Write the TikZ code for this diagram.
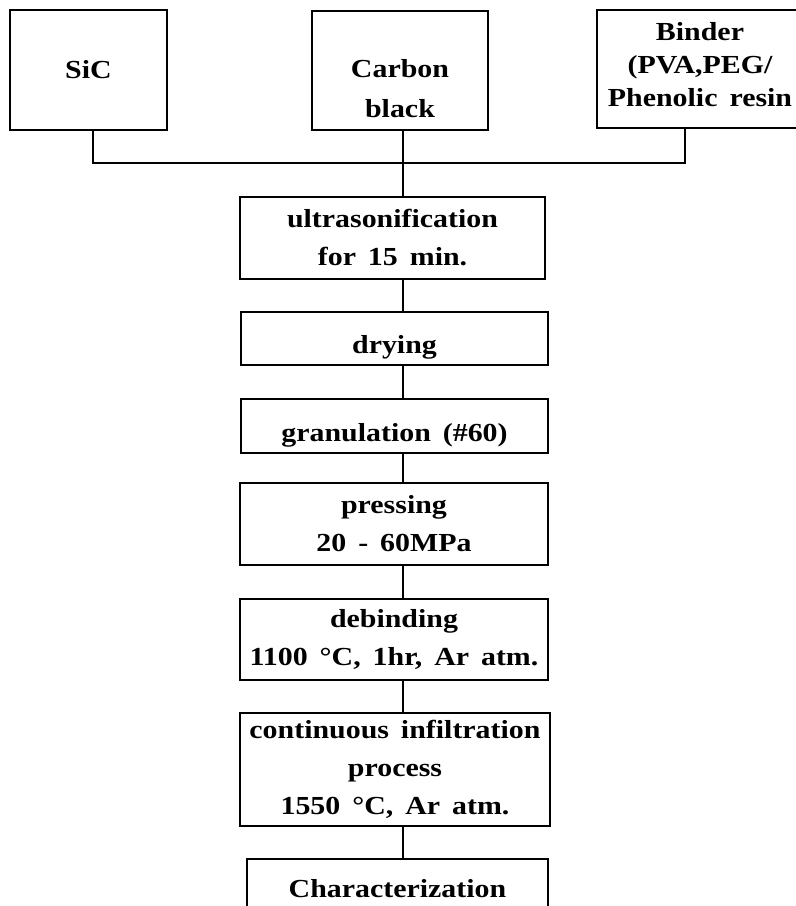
\documentclass[tikz,border=0pt]{standalone}
\usepackage{fontspec}
\setmainfont{Liberation Serif}[FakeStretch=1.15, WordSpace=1.6]
\newcommand\mlines[1]{\begin{tabular}{@{}c@{}}#1\end{tabular}}
\newcommand\shiftby[2]{\raisebox{#1}[\height][\depth]{#2}}
\begin{document}
\begin{tikzpicture}[x=1pt,y=-1pt,
  box/.style={draw=black, line width=2.2pt, inner sep=0pt, align=center,
    font=\fontsize{26}{38}\selectfont\bfseries},
  conn/.style={draw=black, line width=2.2pt}]
\clip (0,0) rectangle (796,906);
\fill[white] (0,0) rectangle (796,906);
% top row
\node[box, minimum width=157pt, minimum height=120pt] (sic) at (88.5,70) {SiC};
\node[box, minimum width=176pt, minimum height=119pt, font=\fontsize{26}{40}\selectfont\bfseries] (carbon) at (400,70.5) {\shiftby{-19pt}{\mlines{Carbon\\black}}};
\node[box, minimum width=206pt, minimum height=118pt, font=\fontsize{26}{33}\selectfont\bfseries] (binder) at (700,69) {\shiftby{2pt}{\mlines{Binder\\(PVA,PEG/\\Phenolic resin}}};
% process chain
\node[box, minimum width=305pt, minimum height=82pt] (ultra) at (392.5,238) {ultrasonification\\for 15 min.};
\node[box, minimum width=307pt, minimum height=53pt] (dry) at (394.5,338.5) {\shiftby{-9pt}{drying}};
\node[box, minimum width=307pt, minimum height=54pt] (gran) at (394.5,426) {\shiftby{-9pt}{granulation (\#60)}};
\node[box, minimum width=308pt, minimum height=82pt] (press) at (394,524) {pressing\\20 - 60MPa};
\node[box, minimum width=308pt, minimum height=81pt] (debind) at (394,639.5) {debinding\\1100 °C, 1hr, Ar atm.};
\node[box, minimum width=310pt, minimum height=113pt] (cont) at (395,769.5) {continuous infiltration\\process\\1550 °C, Ar atm.};
\node[box, minimum width=301pt, minimum height=82pt] (char) at (397.5,900) {\shiftby{11pt}{Characterization}};
% connectors
\coordinate (spine) at (403,0);
\coordinate (jl) at (93,163);
\coordinate (jr) at (685,163);
\draw[conn] (sic.south -| jl) |- (jr) -- (binder.south -| jr);
\draw[conn] (carbon.south -| spine) -- (ultra.north -| spine);
\draw[conn] (ultra.south -| spine) -- (dry.north -| spine);
\draw[conn] (dry.south -| spine) -- (gran.north -| spine);
\draw[conn] (gran.south -| spine) -- (press.north -| spine);
\draw[conn] (press.south -| spine) -- (debind.north -| spine);
\draw[conn] (debind.south -| spine) -- (cont.north -| spine);
\draw[conn] (cont.south -| spine) -- (char.north -| spine);
\end{tikzpicture}
\end{document}
